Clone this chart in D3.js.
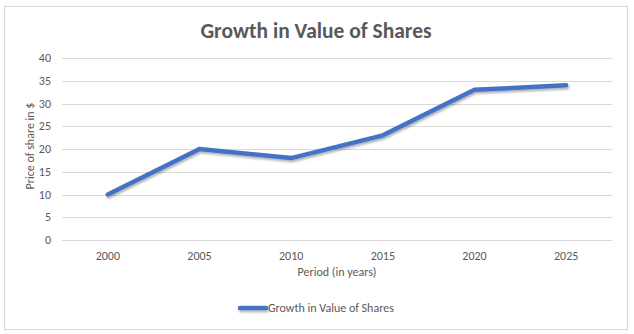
<!DOCTYPE html>
<html><head><meta charset="utf-8">
<script src="https://cdn.jsdelivr.net/npm/d3@7"></script>
<style>body{margin:0;background:#fff}svg{display:block}</style>
</head><body>
<svg id="c" width="634" height="334"></svg>
<script>
const categories = ["2000","2005","2010","2015","2020","2025"];
const values = [10, 20, 18, 23, 33, 34];
const yTicks = [0,5,10,15,20,25,30,35,40];
const title = "Growth in Value of Shares";
const seriesName = "Growth in Value of Shares";
const xTitle = "Period (in years)";
const yTitle = "Price of share in $";

const svg = d3.select("#c");
const font = "Calibri, Carlito, Lato, 'Open Sans', sans-serif";
const grey = "#595959";
svg.append("rect").attr("x",4.5).attr("y",6.5).attr("width",623).attr("height",323)
  .attr("fill","#fff").attr("stroke","#d9d9d9");

const defs = svg.append("defs");
const f = defs.append("filter").attr("id","sh").attr("filterUnits","userSpaceOnUse")
  .attr("x",0).attr("y",0).attr("width",634).attr("height",334);
f.append("feDropShadow").attr("dx",1).attr("dy",2).attr("stdDeviation",1.2).attr("flood-color","#000").attr("flood-opacity",0.3);

const x = d3.scaleBand().domain(categories).range([62,612]);
const y = d3.scaleLinear().domain([0,40]).range([240,58]);

svg.append("g").selectAll("line").data(yTicks).join("line")
  .attr("x1",62).attr("x2",612).attr("y1",d=>Math.round(y(d))+0.5).attr("y2",d=>Math.round(y(d))+0.5)
  .attr("stroke","#d9d9d9").attr("stroke-width",1);

svg.append("g").selectAll("text").data(yTicks).join("text")
  .attr("x",51).attr("y",d=>y(d)).attr("dy","0.35em").attr("text-anchor","end")
  .attr("font-family",font).attr("font-size",12).attr("fill",grey).text(d=>d);

svg.append("g").selectAll("text").data(categories).join("text")
  .attr("x",d=>x(d)+x.bandwidth()/2).attr("y",256).attr("dy","0.35em").attr("text-anchor","middle")
  .attr("font-family",font).attr("font-size",12).attr("fill",grey).text(d=>d);

const line = d3.line().x((d,i)=>x(categories[i])+x.bandwidth()/2).y(d=>y(d));
svg.append("path").datum(values).attr("d",line).attr("fill","none")
  .attr("stroke","#4472C4").attr("stroke-width",4.5).attr("stroke-linecap","round").attr("stroke-linejoin","round")
  .attr("filter","url(#sh)");

svg.append("text").attr("x",316).attr("y",30).attr("dy","0.35em").attr("text-anchor","middle")
  .attr("font-family",font).attr("font-weight","bold").attr("font-size",21.5).attr("fill",grey).text(title);

svg.append("text").attr("x",337).attr("y",272).attr("dy","0.35em").attr("text-anchor","middle")
  .attr("font-family",font).attr("font-size",12).attr("fill",grey).text(xTitle);

svg.append("text").attr("transform","translate(30,146) rotate(-90)").attr("dy","0.35em").attr("text-anchor","middle")
  .attr("font-family",font).attr("font-size",12).attr("fill",grey).text(yTitle);

svg.append("line").attr("x1",240).attr("x2",266).attr("y1",308).attr("y2",308)
  .attr("stroke","#4472C4").attr("stroke-width",4.5).attr("stroke-linecap","round").attr("filter","url(#sh)");
svg.append("text").attr("x",268).attr("y",308).attr("dy","0.35em")
  .attr("font-family",font).attr("font-size",12).attr("fill",grey).text(seriesName);
</script>
</body></html>
